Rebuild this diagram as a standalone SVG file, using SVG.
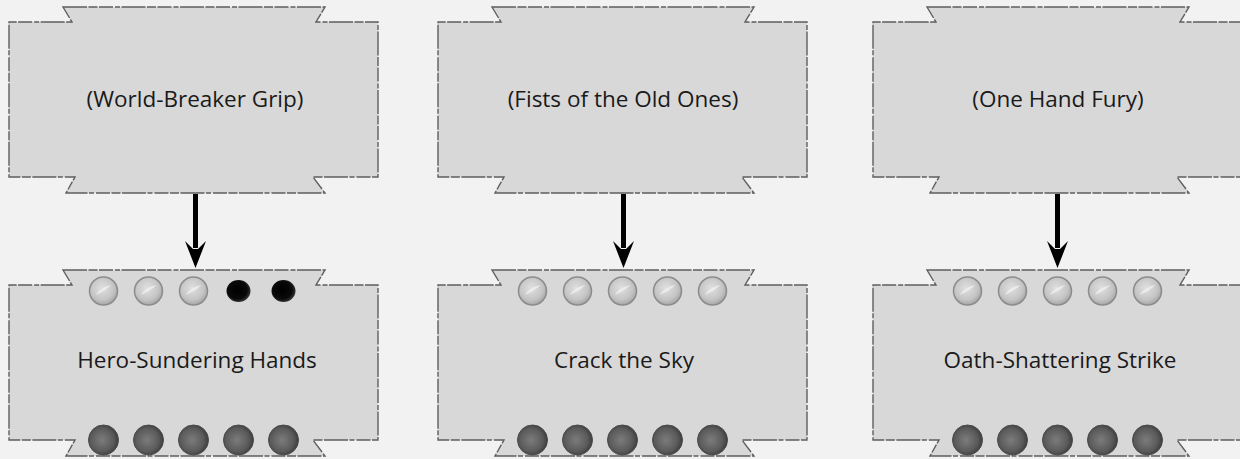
<svg xmlns="http://www.w3.org/2000/svg" xmlns:xlink="http://www.w3.org/1999/xlink" width="1240" height="459" viewBox="0 0 1240 459">
  <style>
    .box { fill: #d8d8d8; stroke: #5e5e5e; stroke-width: 1.4; stroke-dasharray: 24 1.5 9 1.5 14 2 5 1.5; }
    .label { font-family: "Open Sans", "DejaVu Sans", sans-serif; font-size: 22.5px; fill: #1a1a1a; text-anchor: middle; }
    .light { fill: url(#gLight); stroke: #8c8c8c; stroke-width: 1.5; }
    .dark { fill: url(#gDark); stroke: #4a4a4a; stroke-width: 1; }
    .black { fill: url(#gBlack); }
    .streak { fill: #f0f0f0; opacity: 0.8; }
    .shaft { fill: #000; }
  </style>
  <defs>
    <path id="banner" d="M54,0 L316,0 L307,15 L369,15 L369,170 L304,170 L316,186 L57,186 L66,170 L0,170 L0,15 L63,15 Z"/>
    <radialGradient id="gLight" cx="0.45" cy="0.4" r="0.6">
      <stop offset="0" stop-color="#e0e0e0"/>
      <stop offset="0.7" stop-color="#c4c4c4"/>
      <stop offset="1" stop-color="#a6a6a6"/>
    </radialGradient>
    <radialGradient id="gDark" cx="0.45" cy="0.5" r="0.6">
      <stop offset="0" stop-color="#7c7c7c"/>
      <stop offset="0.65" stop-color="#5a5a5a"/>
      <stop offset="1" stop-color="#333"/>
    </radialGradient>
    <radialGradient id="gBlack" cx="0.45" cy="0.45" r="0.55">
      <stop offset="0" stop-color="#000"/>
      <stop offset="0.75" stop-color="#0a0a0a"/>
      <stop offset="1" stop-color="#333"/>
    </radialGradient>
    <g id="lightOrb">
      <circle class="light" r="14"/>
      <path class="streak" d="M-8,4 C-4,-2 2,-5 8,-6 C4,-2 -1,1 -8,4 Z"/>
    </g>
    <g id="darkOrb">
      <circle class="dark" r="15"/>
    </g>
    <g id="blackOrb">
      <ellipse class="black" rx="12" ry="11"/>
    </g>
    <path id="arrowHead" d="M-10.5,-27 L0,0 L10.5,-27 L2.5,-19 L-2.5,-19 Z"/>
  </defs>

  <rect width="1240" height="459" fill="#f2f2f2"/>

  <!-- Top nodes -->
  <g id="node-world-breaker-grip">
    <use xlink:href="#banner" href="#banner" class="box" x="9" y="7"/>
    <text class="label" x="195" y="107">(World-Breaker Grip)</text>
  </g>
  <g id="node-fists-of-the-old-ones">
    <use xlink:href="#banner" href="#banner" class="box" x="438" y="7"/>
    <text class="label" x="623" y="107">(Fists of the Old Ones)</text>
  </g>
  <g id="node-one-hand-fury">
    <use xlink:href="#banner" href="#banner" class="box" x="873" y="7"/>
    <text class="label" x="1058" y="107">(One Hand Fury)</text>
  </g>

  <!-- Bottom nodes -->
  <g id="node-hero-sundering-hands">
    <use xlink:href="#banner" href="#banner" class="box" x="9" y="270"/>
    <text class="label" x="197" y="368">Hero-Sundering Hands</text>
    <use href="#lightOrb" xlink:href="#lightOrb" x="103.5" y="291"/>
    <use href="#lightOrb" xlink:href="#lightOrb" x="148.5" y="291"/>
    <use href="#lightOrb" xlink:href="#lightOrb" x="193.5" y="291"/>
    <use href="#blackOrb" xlink:href="#blackOrb" x="238.5" y="291"/>
    <use href="#blackOrb" xlink:href="#blackOrb" x="283.5" y="291"/>
    <use href="#darkOrb" xlink:href="#darkOrb" x="103.5" y="440"/>
    <use href="#darkOrb" xlink:href="#darkOrb" x="148.5" y="440"/>
    <use href="#darkOrb" xlink:href="#darkOrb" x="193.5" y="440"/>
    <use href="#darkOrb" xlink:href="#darkOrb" x="238.5" y="440"/>
    <use href="#darkOrb" xlink:href="#darkOrb" x="283.5" y="440"/>
  </g>
  <g id="node-crack-the-sky">
    <use xlink:href="#banner" href="#banner" class="box" x="438" y="270"/>
    <text class="label" x="624" y="368">Crack the Sky</text>
    <use href="#lightOrb" xlink:href="#lightOrb" x="532.5" y="291"/>
    <use href="#lightOrb" xlink:href="#lightOrb" x="577.5" y="291"/>
    <use href="#lightOrb" xlink:href="#lightOrb" x="622.5" y="291"/>
    <use href="#lightOrb" xlink:href="#lightOrb" x="667.5" y="291"/>
    <use href="#lightOrb" xlink:href="#lightOrb" x="712.5" y="291"/>
    <use href="#darkOrb" xlink:href="#darkOrb" x="532.5" y="440"/>
    <use href="#darkOrb" xlink:href="#darkOrb" x="577.5" y="440"/>
    <use href="#darkOrb" xlink:href="#darkOrb" x="622.5" y="440"/>
    <use href="#darkOrb" xlink:href="#darkOrb" x="667.5" y="440"/>
    <use href="#darkOrb" xlink:href="#darkOrb" x="712.5" y="440"/>
  </g>
  <g id="node-oath-shattering-strike">
    <use xlink:href="#banner" href="#banner" class="box" x="873" y="270"/>
    <text class="label" x="1060" y="368">Oath-Shattering Strike</text>
    <use href="#lightOrb" xlink:href="#lightOrb" x="967.5" y="291"/>
    <use href="#lightOrb" xlink:href="#lightOrb" x="1012.5" y="291"/>
    <use href="#lightOrb" xlink:href="#lightOrb" x="1057.5" y="291"/>
    <use href="#lightOrb" xlink:href="#lightOrb" x="1102.5" y="291"/>
    <use href="#lightOrb" xlink:href="#lightOrb" x="1147.5" y="291"/>
    <use href="#darkOrb" xlink:href="#darkOrb" x="967.5" y="440"/>
    <use href="#darkOrb" xlink:href="#darkOrb" x="1012.5" y="440"/>
    <use href="#darkOrb" xlink:href="#darkOrb" x="1057.5" y="440"/>
    <use href="#darkOrb" xlink:href="#darkOrb" x="1102.5" y="440"/>
    <use href="#darkOrb" xlink:href="#darkOrb" x="1147.5" y="440"/>
  </g>

  <!-- Connectors -->
  <g id="connectors">
    <rect class="shaft" x="193" y="194" width="5" height="54"/>
    <use href="#arrowHead" xlink:href="#arrowHead" x="195.5" y="268"/>
    <rect class="shaft" x="621" y="194" width="5" height="54"/>
    <use href="#arrowHead" xlink:href="#arrowHead" x="623.5" y="268"/>
    <rect class="shaft" x="1055" y="194" width="5" height="54"/>
    <use href="#arrowHead" xlink:href="#arrowHead" x="1057.5" y="268"/>
  </g>
</svg>
